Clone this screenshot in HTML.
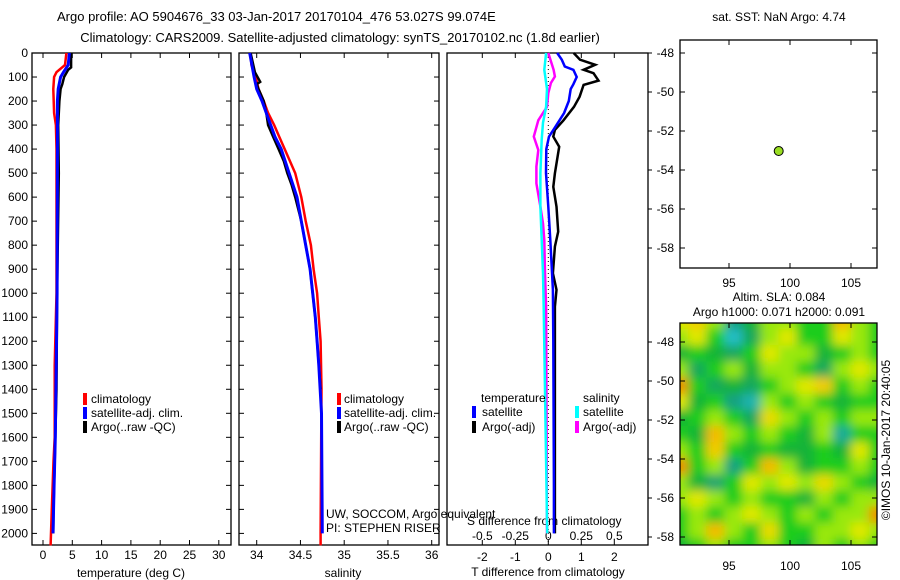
<!DOCTYPE html>
<html><head><meta charset="utf-8">
<style>
html,body{margin:0;padding:0;background:#fff;}
svg{display:block;font-family:"Liberation Sans",sans-serif;font-size:12px;}
</style></head>
<body>
<svg id="fig" width="900" height="580" viewBox="0 0 900 580" xmlns="http://www.w3.org/2000/svg">
<defs>
<filter id="blur" x="-10%" y="-10%" width="120%" height="120%"><feGaussianBlur stdDeviation="5"/></filter>
<clipPath id="mapclip"><rect x="680" y="323" width="197" height="222"/></clipPath>
</defs>
<text x="57" y="21" font-size="13">Argo profile: AO 5904676_33 03-Jan-2017 20170104_476 53.027S 99.074E</text>
<text x="340" y="42" font-size="13" text-anchor="middle">Climatology: CARS2009. Satellite-adjusted climatology: synTS_20170102.nc (1.8d earlier)</text>
<g id="layer"></g>
</svg>
<script>
// ---------- data ----------
const depthTicks = [0,100,200,300,400,500,600,700,800,900,1000,1100,1200,1300,1400,1500,1600,1700,1800,1900,2000];
const tempTicks = [0,5,10,15,20,25,30];
const salTicks = [34,34.5,35,35.5,36];
const tdiffTicks = [-2,-1,0,1,2];
const sdiffTicks = [-0.5,-0.25,0,0.25,0.5];
const sdiffLabels = ["-0.5","-0.25","0","0.25","0.5"];

const tClimDepth = [0,50,80,100,150,250,300,400,1000,1200,1300,1600,1700,1900,2050];
const tClimVal   = [4.0,3.75,2.3,1.9,1.75,1.9,2.2,2.3,2.3,2.1,2.0,2.0,1.8,1.5,1.3];
const tSatDepth  = [0,50,80,100,150,200,400,1000,1200,1400,1600,1800,2000];
const tSatVal    = [4.5,4.3,3.5,3.0,2.6,2.45,2.45,2.4,2.3,2.2,2.1,1.9,1.7];
const tArgoDepth = [0,60,70,100,130,150,200,300,500,1000,1400,1900,2000];
const tArgoVal   = [4.8,4.8,4.3,3.6,3.3,3.0,2.8,2.6,2.7,2.4,2.3,1.8,1.75];

const sClimDepth = [0,50,100,150,200,250,300,350,400,500,600,700,800,900,1000,1100,1200,1400,2000,2050];
const sClimVal   = [33.93,33.94,33.99,34.02,34.08,34.13,34.20,34.26,34.32,34.44,34.51,34.56,34.62,34.65,34.69,34.71,34.73,34.74,34.73,34.73];
const sSatDepth  = [0,100,150,200,250,300,350,400,500,600,700,800,900,1000,1100,1200,1300,1500,2000];
const sSatVal    = [33.92,33.97,34.0,34.06,34.11,34.16,34.21,34.28,34.37,34.46,34.51,34.56,34.61,34.64,34.67,34.69,34.71,34.74,34.75];
const sArgoDepth = [0,80,120,130,150,200,250,300,350,400,450,500,550,600,700,800,900,1000,1100,1200,1400];
const sArgoVal   = [33.93,33.98,34.04,34.0,34.02,34.08,34.11,34.13,34.19,34.25,34.31,34.35,34.40,34.44,34.51,34.56,34.61,34.64,34.67,34.69,34.73];

const dTSatDepth = [0,28,56,70,100,130,150,200,250,300,348,400,500,640,778,986,1200,1800,2000];
const dTSatVal   = [0.27,0.41,0.5,0.76,0.86,0.76,0.68,0.62,0.48,0.25,0.02,-0.06,-0.07,0.0,0.06,0.14,0.15,0.17,0.17];
const dTArgoDepth= [0,28,49,70,84,115,133,182,224,280,320,348,390,501,557,640,744,806,917,986,1056,2000];
const dTArgoVal  = [0.77,0.96,1.42,1.07,1.37,1.52,1.07,0.95,0.78,0.46,0.2,0.15,0.33,0.2,0.15,0.25,0.3,0.2,0.14,0.25,0.2,0.2];
const dSArgoDepth= [0,70,98,125,167,224,280,348,404,473,543,640,710,778,917,1056,2000];
const dSArgoVal  = [0.0,0.04,0.05,0.02,0.0,-0.01,-0.076,-0.11,-0.076,-0.09,-0.09,-0.06,-0.04,-0.03,-0.025,-0.017,-0.01];
const dSSatDepth = [0,70,150,224,290,360,500,640,778,917,1056,2000];
const dSSatVal   = [-0.017,-0.03,-0.01,-0.017,-0.04,-0.05,-0.06,-0.06,-0.05,-0.04,-0.035,-0.008];

const latTicks = [-48,-50,-52,-54,-56,-58];
const lonTicks = [95,100,105];
const argoLon = [99.074];
const argoLat = [-53.027];

const slaGrid = [
[0.7,0.8,0.6,0.2,0.4,0.6,0.6,0.5,0.5,0.85,0.6,0.5],
[0.6,0.7,0.5,0.05,0.3,0.6,0.7,0.5,0.5,0.7,0.6,0.5],
[0.4,0.5,0.4,0.3,0.5,0.7,0.6,0.6,0.4,0.5,0.6,0.5],
[0.6,0.3,0.5,0.6,0.4,0.6,0.6,0.5,0.3,0.6,0.7,0.6],
[0.95,0.5,0.3,0.4,0.3,0.5,0.6,0.7,0.8,0.5,0.6,0.5],
[0.7,0.4,0.5,0.2,0.1,0.6,0.5,0.6,0.5,0.4,0.5,0.5],
[0.4,0.5,0.6,0.5,0.3,0.75,0.6,0.5,0.6,0.5,0.6,0.6],
[0.5,0.4,0.85,0.6,0.5,0.6,0.5,0.4,0.6,0.15,0.5,0.5],
[0.6,0.5,0.8,0.5,0.4,0.5,0.4,0.4,0.5,0.4,0.7,0.5],
[0.95,0.5,0.6,0.2,0.5,0.85,0.6,0.4,0.5,0.5,0.6,0.5],
[0.6,0.4,0.25,0.5,0.7,0.6,0.7,0.6,0.75,0.6,0.5,0.4],
[0.6,0.7,0.6,0.5,0.6,0.5,0.5,0.4,0.6,0.5,0.6,0.6],
[0.5,0.6,0.5,0.6,0.7,0.6,0.5,0.6,0.5,0.6,0.6,0.95],
[0.5,0.6,0.85,0.6,0.5,0.75,0.5,0.5,0.6,0.6,0.7,0.6],
[0.4,0.5,0.6,0.5,0.5,0.6,0.5,0.4,0.6,0.5,0.6,0.5]
];

// ---------- helpers ----------
const NS = "http://www.w3.org/2000/svg";
const layer = document.getElementById('layer');
function mk(tag, attrs, parent){ const e=document.createElementNS(NS,tag); for(const k in attrs) e.setAttribute(k,attrs[k]); (parent||layer).appendChild(e); return e; }

const yDepth = d => 53 + d*0.2402;
const xTemp = t => 43 + t*5.86;
const xSal = s => 256.7 + (s-34)*87.5;
const xTd = t => 548.3 + t*33;
const xSd = s => 548.3 + s*132;
const yLatTop = la => 53 + (-48-la)*19.5;
const yLatBot = la => 342 + (-48-la)*19.5;
const xLon = lo => 729 + (lo-95)*12.2;

function frame(x0,y0,x1,y1,name){
  const r = mk('rect',{x:x0,y:y0,width:x1-x0,height:y1-y0,fill:'none',stroke:'#000','stroke-width':1.3});
  
  
}
function line(x1,y1,x2,y2,sw){ return mk('line',{x1,y1,x2,y2,stroke:'#000','stroke-width':sw||1}); }
function text(x,y,s,anchor,name){
  const t = mk('text',{x,y,'text-anchor':anchor||'start'}); t.textContent=s;
  
  
  return t;
}
function profile(depths, vals, xf, color, w, name){
  let pts = depths.map((d,i)=>xf(vals[i]).toFixed(1)+','+yDepth(d).toFixed(1)).join(' ');
  const p = mk('polyline',{points:pts,fill:'none',stroke:color,'stroke-width':w,'stroke-linejoin':'miter'});
  
  
}
function legendMark(x,y,color,name){
  const r = mk('rect',{x:x-2,y:y-6,width:4,height:12,fill:color});
  
  
}

const Y0=53, Y1=545;
// ---------- panel 1: temperature ----------
frame(32,Y0,231,Y1,'temperature-axes');
depthTicks.forEach(d=>{ const y=yDepth(d); line(32,y,37,y); line(226,y,231,y); text(28,y+4,String(d),'end','depth-tick-label'); });
tempTicks.forEach(t=>{ const x=xTemp(t); line(x,Y1,x,Y1-5); line(x,Y0,x,Y0+5); text(x,559,String(t),'middle','temp-tick-label'); });
text(131,577,'temperature (deg C)','middle','temperature-axis-title');
profile(tClimDepth,tClimVal,xTemp,'#ff0000',2.5,'temp-climatology-line');
profile(tArgoDepth,tArgoVal,xTemp,'#000000',2.5,'temp-argo-line');
profile(tSatDepth,tSatVal,xTemp,'#0000ff',3,'temp-satellite-line');
legendMark(85,399,'#ff0000','legend-climatology-marker'); text(91,403,'climatology','start','legend-climatology');
legendMark(85,413,'#0000ff','legend-satellite-marker'); text(91,417,'satellite-adj. clim.','start','legend-satellite-adj');
legendMark(85,427,'#000','legend-argo-marker'); text(91,431,'Argo(..raw -QC)','start','legend-argo');

// ---------- panel 2: salinity ----------
frame(239,Y0,439,Y1,'salinity-axes');
depthTicks.forEach(d=>{ const y=yDepth(d); line(239,y,244,y); line(434,y,439,y); });
salTicks.forEach(s=>{ const x=xSal(s); line(x,Y1,x,Y1-5); line(x,Y0,x,Y0+5); text(x,559,String(s),'middle','salinity-tick-label'); });
text(343,577,'salinity','middle','salinity-axis-title');
profile(sClimDepth,sClimVal,xSal,'#ff0000',2.5,'sal-climatology-line');
profile(sArgoDepth,sArgoVal,xSal,'#000000',2.5,'sal-argo-line');
profile(sSatDepth,sSatVal,xSal,'#0000ff',3,'sal-satellite-line');
legendMark(339,399,'#ff0000','legend2-climatology-marker'); text(344,403,'climatology','start','legend2-climatology');
legendMark(339,413,'#0000ff','legend2-satellite-marker'); text(344,417,'satellite-adj. clim.','start','legend2-satellite-adj');
legendMark(339,427,'#000','legend2-argo-marker'); text(344,431,'Argo(..raw -QC)','start','legend2-argo');
text(326,518,'UW, SOCCOM, Argo equivalent','start','float-owner-text');
text(326,532,'PI: STEPHEN RISER','start','pi-text');

// ---------- panel 3: differences ----------
frame(447,Y0,648,Y1,'difference-axes');
tdiffTicks.forEach(t=>{ const x=xTd(t); line(x,Y1,x,Y1-5); line(x,Y0,x,Y0+5); text(x,561,String(t),'middle','tdiff-tick-label'); });
sdiffTicks.forEach((s,i)=>{ text(xSd(s),540,sdiffLabels[i],'middle','sdiff-tick-label'); });
text(548,576,'T difference from climatology','middle','tdiff-axis-title');
text(467,525,'S difference from climatology','start','sdiff-axis-title');
mk('line',{x1:xTd(0),y1:Y0,x2:xTd(0),y2:Y1,stroke:'#000','stroke-width':1,'stroke-dasharray':'1,3'});
profile(dTArgoDepth,dTArgoVal,xTd,'#000000',2.5,'tdiff-argo-line');
profile(dTSatDepth,dTSatVal,xTd,'#0000ff',2.5,'tdiff-satellite-line');
profile(dSArgoDepth,dSArgoVal,xSd,'#ff00ff',2.5,'sdiff-argo-line');
profile(dSSatDepth,dSSatVal,xSd,'#00ffff',2.5,'sdiff-satellite-line');
text(481,402,'temperature','start','legend3-temperature-heading');
legendMark(474,412,'#0000ff','legend3-tsat-marker'); text(482,416,'satellite','start','legend3-tsat');
legendMark(474,427,'#000','legend3-targo-marker'); text(482,431,'Argo(-adj)','start','legend3-targo');
text(583,402,'salinity','start','legend3-salinity-heading');
legendMark(577,412,'#00ffff','legend3-ssat-marker'); text(583,416,'satellite','start','legend3-ssat');
legendMark(577,427,'#ff00ff','legend3-sargo-marker'); text(583,431,'Argo(-adj)','start','legend3-sargo');
latTicks.forEach(la=>{ line(648,yLatTop(la),652,yLatTop(la)); line(648,yLatBot(la),652,yLatBot(la)); });

// ---------- top map ----------
text(779,21,'sat. SST: NaN Argo: 4.74','middle','sst-map-title');
frame(680,40,877,268,'sst-map-axes');
latTicks.forEach(la=>{ const y=yLatTop(la); line(680,y,685,y); line(872,y,877,y); text(674,y+4,String(la),'end','sst-lat-tick-label'); });
lonTicks.forEach(lo=>{ const x=xLon(lo); line(x,268,x,263); line(x,40,x,45); text(x,287,String(lo),'middle','sst-lon-tick-label'); });
argoLon.forEach((lo,i)=>{
  const c = mk('circle',{cx:xLon(lo),cy:yLatTop(argoLat[i]),r:4.5,fill:'#99dd22',stroke:'#000','stroke-width':1});
  
  
});

// ---------- bottom map (SLA) ----------
text(779,301,'Altim. SLA: 0.084','middle','sla-map-title');
text(779,316,'Argo h1000: 0.071 h2000: 0.091','middle','sla-map-subtitle');
function slaColor(v){
  const stops=[[0,[40,200,220]],[0.2,[20,160,130]],[0.38,[20,175,60]],[0.5,[30,205,30]],[0.65,[215,245,0]],[0.82,[245,200,0]],[1,[240,120,0]]];
  for(let i=1;i<stops.length;i++){ if(v<=stops[i][0]){ const a=stops[i-1],b=stops[i]; const f=(v-a[0])/(b[0]-a[0]); const c=a[1].map((x,j)=>Math.round(x+(b[1][j]-x)*f)); return 'rgb('+c.join(',')+')'; } }
  return 'rgb(240,120,0)';
}
const gClip = mk('g',{'clip-path':'url(#mapclip)'});


mk('rect',{x:680,y:323,width:197,height:222,fill:slaColor(0.55)},gClip);
const gBlur = mk('g',{filter:'url(#blur)'},gClip);
const nR=slaGrid.length, nC=slaGrid[0].length, cw=217/nC, ch=242/nR;
slaGrid.forEach((row,r)=>row.forEach((v,c)=>{
  const cell = mk('rect',{x:(670+c*cw).toFixed(1),y:(313+r*ch).toFixed(1),width:(cw+0.6).toFixed(1),height:(ch+0.6).toFixed(1),fill:slaColor(v)},gBlur);
  
  
}));
frame(680,323,877,545,'sla-map-axes');
latTicks.forEach(la=>{ const y=yLatBot(la); line(680,y,685,y); line(872,y,877,y); text(674,y+4,String(la),'end','sla-lat-tick-label'); });
lonTicks.forEach(lo=>{ const x=xLon(lo); line(x,545,x,540); line(x,323,x,328); text(x,570,String(lo),'middle','sla-lon-tick-label'); });
const stamp = text(0,0,'©IMOS 10-Jan-2017 20:40:05','middle','imos-timestamp');
stamp.setAttribute('transform','translate(890,440) rotate(-90)');
</script>
</body></html>
